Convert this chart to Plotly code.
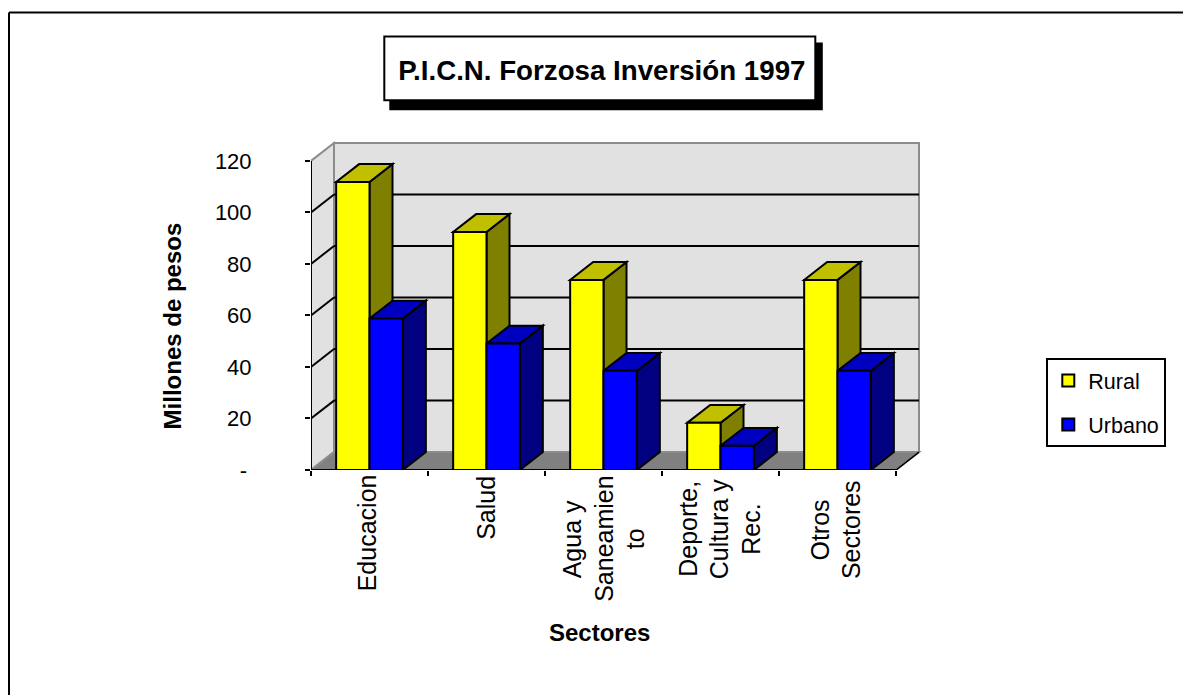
import plotly.graph_objects as go

# ---- data ----
CATEGORY_LINES = [["Educacion"], ["Salud"], ["Agua y", "Saneamien", "to"],
                  ["Deporte,", "Cultura y", "Rec."], ["Otros", "Sectores"]]
RURAL = [111.8, 92.4, 73.8, 18.3, 73.8]
URBANO = [58.8, 49.1, 38.5, 9.4, 38.5]
Y_TICKS = [0, 20, 40, 60, 80, 100, 120]
Y_TICK_TEXT = ["-\u2009", "20", "40", "60", "80", "100", "120"]
TITLE = "P.I.C.N. Forzosa Inversión 1997"

# ---- layout constants (pixels) ----
W, H = 1183, 695
X0, X1 = 310.7, 895.7      # front plane, left/right
Y0, Y1 = 470.0, 160.6      # front plane, value 0 / 120
DPX, DPY = 23.0, 17.9      # depth offset
PAD = 3.0
CAT_PX = (X1 - X0) / 5
VAL_PX = (Y0 - Y1) / 120
DX = DPX / CAT_PX
DY = DPY / VAL_PX
BARGAP = 0.43
BW = (1 - BARGAP) / 2
XL, XR = -0.5, 4.5
YT = Y_TICKS[-1]
plot_l, plot_r = X0, X1 + DPX + PAD
plot_t, plot_b = Y1 - DPY - PAD, Y0
px = lambda v: (v - plot_l) / (plot_r - plot_l)
py = lambda v: 1 - (v - plot_t) / (plot_b - plot_t)

WALL, FLOOR, EDGE = "#E1E1E1", "#808080", "#8C8C8C"
YEL, YEL_T, YEL_S = "#FFFF00", "#C0C000", "#808000"
BLU, BLU_T, BLU_S = "#0000FF", "#0000C0", "#000080"
FONT = "Liberation Sans, Arial, sans-serif"


def poly(pts, fill, line="black", width=2, layer="below"):
    d = "M " + " L ".join(f"{x},{y}" for x, y in pts) + " Z"
    return dict(type="path", path=d, xref="x", yref="y", fillcolor=fill, layer=layer,
                line=dict(color=line, width=width))


def seg(a, b, color="black", width=2):
    return dict(type="line", xref="x", yref="y", x0=a[0], y0=a[1], x1=b[0], y1=b[1], layer="below",
                line=dict(color=color, width=width))


shapes = []
# walls and floor
shapes.append(poly([(XL + DX, DY), (XR + DX, DY), (XR + DX, YT + DY), (XL + DX, YT + DY)], WALL, EDGE, 2))
shapes.append(poly([(XL, 0), (XL + DX, DY), (XL + DX, YT + DY), (XL, YT)], WALL, EDGE, 2))
shapes.append(poly([(XL, 0), (XR, 0), (XR + DX, DY), (XL + DX, DY)], FLOOR, EDGE, 2))
# gridlines on the walls
for v in Y_TICKS[1:-1]:
    shapes.append(seg((XL, v), (XL + DX, v + DY)))
    shapes.append(seg((XL + DX, v + DY), (XR + DX, v + DY)))
shapes.append(seg((XR, 0), (XR + DX, DY), "black", 1.5))
# bar side and top faces, painted back to front
for i in range(len(RURAL)):
    for val, x0, top, side in ((RURAL[i], i - BW, YEL_T, YEL_S), (URBANO[i], i, BLU_T, BLU_S)):
        x1 = x0 + BW
        shapes.append(poly([(x1, 0), (x1 + DX, DY), (x1 + DX, val + DY), (x1, val)], side))
        shapes.append(poly([(x0, val), (x1, val), (x1 + DX, val + DY), (x0 + DX, val + DY)], top))

# page frame and title box, in page pixels
def rect(x0, y0, x1, y1, fill, line="black", width=2):
    return dict(type="rect", xref="paper", yref="paper", x0=px(x0), x1=px(x1), y0=py(y0), y1=py(y1),
                fillcolor=fill, layer="above", line=dict(color=line, width=width))


shapes.append(rect(389, 42, 822.5, 110, "black", "black", 0))
shapes.append(rect(384, 36, 815, 100, "white", "black", 2))
for a, b in (((8.7, 12), (W + 5, 12)), ((8.7, 12), (8.7, H + 5))):
    shapes.append(dict(type="line", xref="paper", yref="paper", x0=px(a[0]), x1=px(b[0]),
                       y0=py(a[1]), y1=py(b[1]), layer="above", line=dict(color="black", width=2)))

# category labels: one annotation per line, each block centred as in the picture
LABEL_SHIFT = [-2.2, -0.7, 0.3, -1.2, -2.2]
LABEL_MID = [533, 508, 539, 529, 530]
LINE_STEP = 31.5
annotations = []
for i, lines in enumerate(CATEGORY_LINES):
    for j, t in enumerate(lines):
        annotations.append(dict(x=i, y=0, xref="x", yref="y", text=t, showarrow=False, textangle=-90,
                                xanchor="center", yanchor="middle",
                                xshift=LABEL_SHIFT[i] + (j - (len(lines) - 1) / 2) * LINE_STEP,
                                yshift=-(LABEL_MID[i] - Y0),
                                font=dict(family=FONT, size=25, color="black")))
# axis titles
annotations.append(dict(x=px(599.5), y=py(633), xref="paper", yref="paper", text="<b>Sectores</b>", showarrow=False,
                        xanchor="center", yanchor="middle", font=dict(family=FONT, size=24, color="black")))
annotations.append(dict(x=px(172), y=py(326), xref="paper", yref="paper", text="<b>Millones de pesos</b>",
                        showarrow=False, textangle=-90, xanchor="center", yanchor="middle",
                        font=dict(family=FONT, size=24, color="black")))

fig = go.Figure()
xs = list(range(len(RURAL)))
fig.add_trace(go.Bar(x=xs, y=RURAL, name="Rural", legendgroup="r", marker=dict(color=YEL, line=dict(color="black", width=2))))
fig.add_trace(go.Bar(x=xs, y=URBANO, name="Urbano", legendgroup="u", marker=dict(color=BLU, line=dict(color="black", width=2))))
# front axis lines
fig.add_trace(go.Scatter(x=[XL, XL, XR], y=[YT, 0, 0], mode="lines", cliponaxis=False, showlegend=False,
                         hoverinfo="skip", line=dict(color="black", width=2)))

fig.update_layout(
    width=W, height=H, paper_bgcolor="white", plot_bgcolor="white",
    margin=dict(l=plot_l, r=W - plot_r, t=plot_t, b=H - plot_b, pad=0, autoexpand=False),
    barmode="group", bargap=BARGAP, bargroupgap=0,
    font=dict(family=FONT, size=22, color="black"),
    title=dict(text=f"<b>{TITLE}</b>", x=px(601.5), xref="paper", xanchor="center",
               y=1 - 70 / H, yref="container", yanchor="middle",
               font=dict(family=FONT, size=27.7, color="black")),
    xaxis=dict(range=[XL, XR + (DPX + PAD) / CAT_PX], tickvals=[x + 0.5 for x in range(-1, 5)],
               showticklabels=False, ticks="outside", ticklen=5, tickwidth=2, tickcolor="black",
               showgrid=False, zeroline=False, showline=False),
    yaxis=dict(range=[0, YT + (DPY + PAD) / VAL_PX], tickvals=Y_TICKS, ticktext=Y_TICK_TEXT,
               ticks="outside", ticklen=5, tickwidth=2, tickcolor="black", ticklabelstandoff=49,
               showgrid=False, zeroline=False, showline=False),
    legend=dict(x=px(1046), xanchor="left", y=py(358), yanchor="top", bordercolor="black", borderwidth=2,
                tracegroupgap=13, traceorder="grouped", itemwidth=30, bgcolor="white",
                font=dict(family=FONT, size=21.5, color="black")),
    shapes=shapes, annotations=annotations,
)
fig.write_html("out.html", post_script="document.body.style.margin='0';", config=dict(displayModeBar=False))
